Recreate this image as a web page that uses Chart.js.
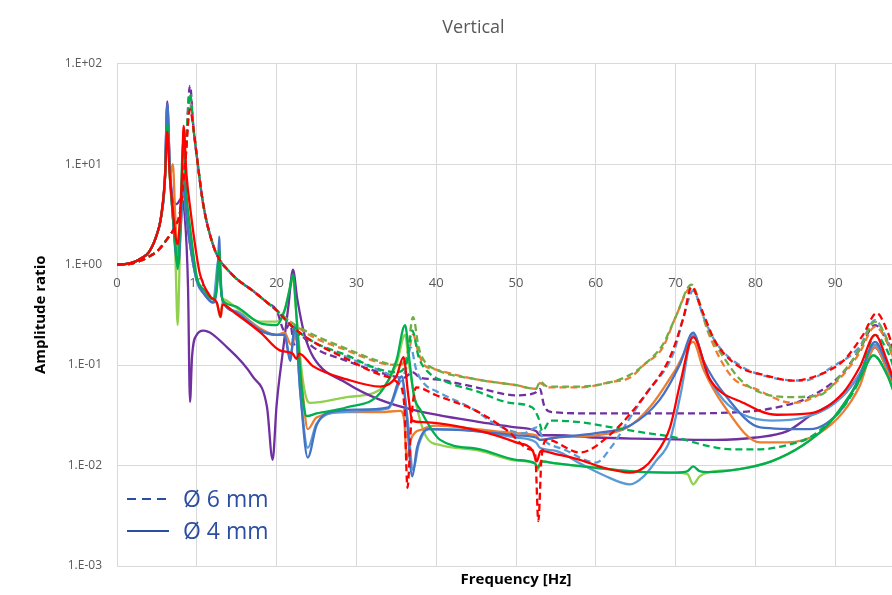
<!DOCTYPE html>
<html>
<head>
<meta charset="utf-8">
<script src="https://cdn.jsdelivr.net/npm/chart.js@4.4.1/dist/chart.umd.min.js"></script>
<style>
  body { margin: 0; overflow: hidden; background: #fff; }
</style>
</head>
<body>
<canvas id="chart" width="950" height="595"></canvas>
<script>
// frequency ticks (Hz) and amplitude decades
const freqTicks = [0, 10, 20, 30, 40, 50, 60, 70, 80, 90, 100];
const ampTicks = [0.001, 0.01, 0.1, 1, 10, 100];

// [Hz, amplitude ratio]
const solidRise = [[0,1],[1,1.01],[2,1.05],[3,1.15],[4,1.33],[5,2.0],[5.5,2.9],[6.0,7]];
const dashedRise = [[0,1],[2,1.03],[3,1.1],[4,1.2],[5,1.35],[6.3,1.8],[7.3,2.4],[7.9,3.3],[8.5,9]];
const dashedFall = [[9.6,22],[10,12],[10.8,4],[12,1.6],[12.9,1.1],[13.8,0.9],[15,0.72],[17,0.55],[18.8,0.42],[20,0.35]];

// Ø 4 mm (solid)
const red4 = [...solidRise, [6.3,21],[6.6,8],[7.0,3.5],[7.3,2.0],[7.6,1.6],[7.9,3],[8.15,8],[8.35,24],[8.7,8],[9.2,3.5],[10,1.2],[10.4,0.8],[11.7,0.48],[12.5,0.42],[13,0.3],[13.2,0.4],[15,0.32],[18,0.21],[20.4,0.14],[22,0.13],[22.5,0.115],[22.8,0.13],[24.6,0.097],[28.8,0.072],[33,0.061],[35,0.077],[35.9,0.12],[36.5,0.05],[37,0.028],[38.3,0.027],[45.5,0.022],[50,0.017],[52.1,0.014],[52.6,0.011],[53.1,0.014],[55,0.013],[58,0.0114],[61,0.0095],[64.3,0.0085],[66,0.0095],[67.2,0.012],[69.3,0.024],[70.6,0.067],[72.2,0.19],[74.3,0.072],[78.5,0.042],[82.7,0.032],[86.8,0.033],[91,0.053],[93.1,0.096],[95,0.2],[96.5,0.11],[98,0.05],[100,0.03]];
const blue4 = [...solidRise, [6.3,40],[6.6,10],[7.0,3],[7.4,1.2],[7.7,1.0],[8.0,2.5],[8.3,7],[8.7,3],[9.2,1.5],[10,0.7],[11,0.5],[12,0.42],[12.6,0.7],[12.8,1.9],[13.0,0.6],[13.5,0.4],[15,0.33],[18,0.22],[20,0.2],[21,0.2],[21.7,0.11],[22.3,0.25],[23,0.05],[23.9,0.012],[25,0.025],[26.7,0.034],[30,0.036],[34,0.038],[35.7,0.077],[36.3,0.03],[37,0.0078],[37.6,0.015],[39,0.023],[45,0.022],[50,0.02],[52.5,0.019],[53,0.018],[55,0.019],[60,0.021],[64.3,0.025],[68,0.045],[70.5,0.1],[72.2,0.21],[73.5,0.11],[76.4,0.048],[80.6,0.024],[86.8,0.023],[91,0.038],[93,0.075],[95,0.17],[96.5,0.1],[98,0.05],[100,0.03]];
const lightBlue4 = [...solidRise, [6.3,38],[6.6,10],[7.0,3],[7.4,1.3],[7.7,1.1],[8.0,2.5],[8.3,6],[8.7,3],[9.2,1.5],[10,0.68],[11,0.5],[12,0.42],[12.8,1.2],[13.2,0.45],[15,0.34],[18,0.22],[20,0.2],[21,0.2],[21.7,0.12],[22.3,0.22],[23,0.05],[23.9,0.015],[25,0.026],[28,0.034],[34,0.037],[35.7,0.07],[36.4,0.03],[37.1,0.009],[37.8,0.016],[39,0.023],[45,0.022],[50,0.019],[52.5,0.017],[53,0.015],[55,0.014],[58,0.0105],[61,0.008],[64.3,0.0065],[66,0.0078],[67.5,0.011],[69.3,0.018],[70.6,0.05],[72.2,0.2],[74,0.08],[76,0.045],[78.5,0.032],[82,0.028],[86,0.03],[90,0.042],[93,0.08],[95,0.16],[96.5,0.1],[98,0.05],[100,0.03]];
const orange4 = [...solidRise, [6.3,30],[6.7,8],[7.0,10],[7.3,3],[7.6,1.3],[8.0,2.5],[8.3,7],[8.7,3],[9.2,1.5],[10,0.7],[11,0.5],[12,0.42],[12.8,0.8],[13.2,0.45],[15,0.34],[18,0.23],[20,0.2],[21,0.21],[21.8,0.16],[22.5,0.2],[23.2,0.06],[23.9,0.023],[25,0.03],[28.8,0.034],[33,0.034],[35.5,0.035],[36,0.028],[36.3,0.0114],[36.8,0.018],[38.3,0.023],[40,0.025],[45,0.023],[50,0.021],[52.5,0.02],[53,0.018],[55,0.019],[60,0.02],[64,0.024],[67,0.04],[70,0.09],[72.2,0.17],[73.5,0.09],[76,0.04],[80.6,0.017],[84,0.017],[88,0.021],[91,0.034],[93,0.06],[95,0.15],[96.5,0.09],[98,0.045],[100,0.028]];
const purple4 = [...solidRise, [6.3,42],[6.6,10],[7.0,4.5],[7.5,4],[8.0,4.5],[8.5,3],[8.9,0.6],[9.15,0.043],[9.4,0.12],[10,0.2],[10.8,0.22],[13.8,0.15],[17,0.077],[18.8,0.038],[19.5,0.0114],[20,0.04],[20.8,0.14],[21.5,0.4],[22.05,0.89],[22.6,0.45],[23.5,0.2],[24.6,0.12],[28.8,0.066],[33,0.045],[37,0.036],[45.5,0.027],[50,0.024],[52.5,0.022],[53,0.02],[55,0.02],[60,0.019],[65,0.0185],[70,0.0182],[75,0.018],[80,0.019],[84,0.022],[86.8,0.031],[91,0.05],[93,0.08],[95,0.15],[96.5,0.09],[98,0.045],[100,0.028]];
const green4 = [...solidRise, [6.3,25],[6.6,8],[7.0,3],[7.4,1.3],[7.6,0.9],[7.9,2.5],[8.3,17],[8.7,5],[9.2,2.2],[10,0.75],[11,0.55],[12,0.45],[12.5,0.6],[12.8,1.4],[13.1,0.5],[13.5,0.42],[15,0.38],[18,0.26],[20,0.25],[21,0.35],[21.6,0.55],[22.05,0.8],[22.5,0.3],[23,0.08],[23.5,0.035],[23.8,0.031],[25,0.033],[28.8,0.038],[33,0.053],[35,0.11],[36.1,0.25],[36.6,0.12],[37.2,0.05],[38,0.036],[40.5,0.018],[45.5,0.0145],[50,0.0114],[52.4,0.0105],[52.7,0.0095],[53.2,0.011],[55,0.0105],[60,0.0095],[65,0.0087],[70,0.0085],[71.5,0.0088],[72.2,0.0098],[73,0.0088],[74,0.0086],[78,0.0092],[82,0.011],[86,0.016],[89,0.025],[91,0.04],[93,0.07],[94.8,0.125],[96.5,0.08],[98,0.04],[100,0.025]];
const lime4 = [...solidRise, [6.3,25],[6.6,8],[7.0,3],[7.3,1.3],[7.6,0.25],[7.9,1.5],[8.3,10],[8.7,4],[9.2,2],[10,0.72],[11,0.52],[12,0.42],[12.5,0.42],[12.9,0.3],[13.3,0.45],[15,0.37],[18,0.27],[20,0.27],[21,0.35],[22.05,0.7],[22.5,0.3],[23.2,0.08],[23.8,0.045],[24.2,0.042],[28.8,0.048],[33,0.057],[35,0.1],[36.1,0.2],[36.6,0.1],[37.5,0.04],[38.8,0.019],[40.5,0.016],[45.5,0.014],[50,0.0112],[52.4,0.0105],[52.7,0.009],[53.2,0.011],[55,0.0105],[60,0.0095],[65,0.0087],[70,0.0085],[71.5,0.0082],[72.2,0.0065],[73,0.0078],[74,0.0085],[78,0.0092],[82,0.011],[86,0.016],[89,0.025],[91,0.04],[93,0.07],[94.8,0.125],[96.5,0.08],[98,0.04],[100,0.025]];

// Ø 6 mm (dashed)
const red6 = [...dashedRise, [9.15,35], ...dashedFall, [22,0.24],[24.6,0.17],[28.8,0.115],[33,0.08],[35.3,0.065],[36,0.04],[36.4,0.006],[36.9,0.03],[37.5,0.06],[40,0.05],[45,0.035],[49,0.022],[51.7,0.0145],[52.4,0.013],[52.8,0.0028],[53.2,0.012],[53.9,0.018],[58,0.0135],[62,0.021],[66.4,0.053],[69.3,0.12],[71,0.3],[72,0.6],[73.3,0.35],[75,0.17],[78,0.096],[81,0.08],[84.7,0.07],[88,0.08],[91,0.11],[93.5,0.2],[95.2,0.33],[96.5,0.22],[98,0.1],[100,0.06]];
const blue6 = [...dashedRise, [9.15,40], ...dashedFall, [22,0.24],[24.6,0.17],[28.8,0.12],[33,0.088],[35.5,0.075],[36.2,0.09],[36.8,0.15],[37.5,0.09],[38.5,0.065],[40,0.055],[45,0.035],[47,0.027],[51,0.021],[52.6,0.024],[53.5,0.018],[56,0.0145],[60,0.0107],[62,0.0155],[64.3,0.03],[66.4,0.053],[69.7,0.13],[71,0.3],[72.2,0.55],[73.5,0.3],[75,0.17],[78,0.1],[82,0.075],[86,0.07],[90,0.1],[93,0.15],[95,0.28],[96.5,0.18],[98,0.1],[100,0.06]];
const orange6 = [...dashedRise, [9.15,45], ...dashedFall, [22,0.26],[24.6,0.19],[28.8,0.14],[33,0.105],[35,0.1],[36.3,0.11],[37.1,0.2],[37.8,0.13],[38.5,0.1],[40,0.09],[45,0.072],[50,0.063],[52.5,0.058],[53,0.066],[54,0.06],[58,0.06],[62,0.068],[64.3,0.075],[66,0.1],[68.4,0.15],[70,0.3],[72,0.6],[73,0.4],[74,0.22],[77,0.077],[80,0.058],[84.7,0.042],[89,0.057],[91,0.08],[93,0.13],[95,0.24],[96.5,0.17],[98,0.08],[100,0.05]];
const olive6 = [...dashedRise, [9.15,50], ...dashedFall, [22,0.26],[24.6,0.2],[28.8,0.145],[33,0.108],[35,0.1],[36.3,0.12],[37.1,0.3],[37.8,0.15],[38.5,0.11],[40,0.09],[45,0.072],[50,0.063],[52.5,0.058],[53,0.068],[54,0.061],[58,0.061],[62,0.068],[64.3,0.08],[66,0.1],[68.4,0.16],[70,0.3],[72,0.63],[73,0.42],[74,0.23],[76,0.12],[78.5,0.067],[84,0.048],[88,0.05],[91,0.085],[93,0.14],[95,0.27],[96.5,0.18],[98,0.08],[100,0.05]];
const purple6 = [...dashedRise, [9.15,60], ...dashedFall, [21,0.22],[21.7,0.26],[22.2,0.16],[22.8,0.2],[24.6,0.15],[28.8,0.11],[33,0.084],[36,0.075],[37,0.085],[38,0.075],[40,0.072],[45,0.06],[50,0.05],[52.4,0.053],[53,0.058],[53.5,0.04],[54.5,0.034],[60,0.033],[70,0.033],[78,0.034],[82,0.037],[86.8,0.048],[91,0.084],[93,0.14],[95,0.25],[96.5,0.17],[98,0.09],[100,0.055]];
const green6 = [...dashedRise, [9.15,50], ...dashedFall, [22,0.24],[24.6,0.17],[28.8,0.125],[33,0.09],[35,0.085],[36.2,0.1],[37,0.22],[37.8,0.12],[39,0.085],[41.7,0.066],[45,0.055],[49.2,0.042],[52,0.038],[52.8,0.03],[53.3,0.022],[54.3,0.028],[58,0.027],[62,0.024],[66.4,0.021],[70,0.019],[74.3,0.0155],[77,0.0145],[80.6,0.0145],[84,0.016],[86.8,0.019],[89,0.026],[91,0.038],[93,0.07],[95,0.2],[96.5,0.14],[98,0.07],[100,0.045]];

const gridColor = '#d9d9d9';
const textColor = '#595959';
const legendColor = '#2B4EA2';

function series(label, points, color, dashed) {
    return {
        label: label,
        data: points.map(p => ({ x: p[0], y: p[1] })),
        borderColor: color,
        backgroundColor: color,
        borderWidth: 2.3,
        borderDash: dashed ? [7, 4] : [],
        pointRadius: 0,
        cubicInterpolationMode: 'monotone',
        xAxisID: 'x',
        yAxisID: 'y'
    };
}

// first dataset ends up on top
const datasets = [
    series('Ø 4 mm red', red4, '#FF0000', false),
    series('Ø 6 mm red', red6, '#FF0000', true),
    series('Ø 4 mm green', green4, '#00B050', false),
    series('Ø 6 mm green', green6, '#00B050', true),
    series('Ø 6 mm olive', olive6, '#70AD47', true),
    series('Ø 4 mm blue', blue4, '#4472C4', false),
    series('Ø 6 mm blue', blue6, '#5B9BD5', true),
    series('Ø 4 mm light blue', lightBlue4, '#5B9BD5', false),
    series('Ø 4 mm orange', orange4, '#ED7D31', false),
    series('Ø 6 mm orange', orange6, '#ED7D31', true),
    series('Ø 4 mm purple', purple4, '#7030A0', false),
    series('Ø 6 mm purple', purple6, '#7030A0', true),
    series('Ø 4 mm lime', lime4, '#92D050', false)
];

// legend drawn inside the plot, bottom left
const diameterLegend = {
    id: 'diameterLegend',
    afterDraw(chart) {
        const { ctx, chartArea } = chart;
        const x0 = chartArea.left + 10;
        const rows = [
            { text: 'Ø 6 mm', dash: [9, 6], y: chartArea.bottom - 67 },
            { text: 'Ø 4 mm', dash: [], y: chartArea.bottom - 35 }
        ];
        ctx.save();
        ctx.strokeStyle = legendColor;
        ctx.fillStyle = legendColor;
        ctx.lineWidth = 2;
        ctx.font = '23px "Open Sans", sans-serif';
        ctx.textBaseline = 'middle';
        rows.forEach(r => {
            ctx.setLineDash(r.dash);
            ctx.beginPath();
            ctx.moveTo(x0, r.y);
            ctx.lineTo(x0 + 42, r.y);
            ctx.stroke();
            ctx.fillText(r.text, x0 + 56, r.y + 1);
        });
        ctx.restore();
    }
};

function decadeLabel(v) {
    const e = Math.round(Math.log10(v));
    return '1.E' + (e < 0 ? '-' : '+') + String(Math.abs(e)).padStart(2, '0');
}

new Chart(document.getElementById('chart'), {
    type: 'line',
    data: { datasets: datasets },
    plugins: [diameterLegend],
    options: {
        responsive: false,
        devicePixelRatio: 1,
        animation: false,
        layout: { padding: { left: 32, right: 35, top: 0, bottom: 0 } },
        plugins: {
            legend: { display: false },
            tooltip: { enabled: false },
            title: {
                display: true,
                text: 'Vertical',
                color: textColor,
                font: { family: 'Open Sans', size: 18, weight: 'normal' },
                padding: { top: 17, bottom: 25 }
            }
        },
        scales: {
            x: {
                type: 'linear',
                position: 'bottom',
                min: 0,
                max: 100,
                afterBuildTicks: s => { s.ticks = freqTicks.map(v => ({ value: v })); },
                ticks: { display: false },
                grid: { color: gridColor, drawTicks: false },
                border: { display: false },
                title: {
                    display: true,
                    text: 'Frequency [Hz]',
                    color: '#000',
                    font: { family: 'Open Sans', size: 15, weight: 'bold' },
                    padding: { top: 4, bottom: 6 }
                },
                afterFit: s => { s.height = 29; }
            },
            xLabels: {
                type: 'linear',
                position: { y: 1 },
                min: 0,
                max: 100,
                afterBuildTicks: s => { s.ticks = freqTicks.map(v => ({ value: v })); },
                ticks: { color: textColor, font: { family: 'Open Sans', size: 13 }, padding: 11, maxRotation: 0 },
                grid: { display: false, drawTicks: false },
                border: { display: false }
            },
            y: {
                type: 'logarithmic',
                min: 0.001,
                max: 100,
                afterBuildTicks: s => { s.ticks = ampTicks.map(v => ({ value: v })); },
                ticks: {
                    color: textColor,
                    font: { family: 'Open Sans', size: 12 },
                    padding: 15,
                    callback: v => decadeLabel(v)
                },
                grid: { color: gridColor, drawTicks: false },
                border: { display: false },
                title: {
                    display: true,
                    text: 'Amplitude ratio',
                    color: '#000',
                    font: { family: 'Open Sans', size: 15, weight: 'bold' },
                    padding: 0
                },
                afterFit: s => { s.width = 85; }
            }
        }
    }
});
</script>
</body>
</html>
